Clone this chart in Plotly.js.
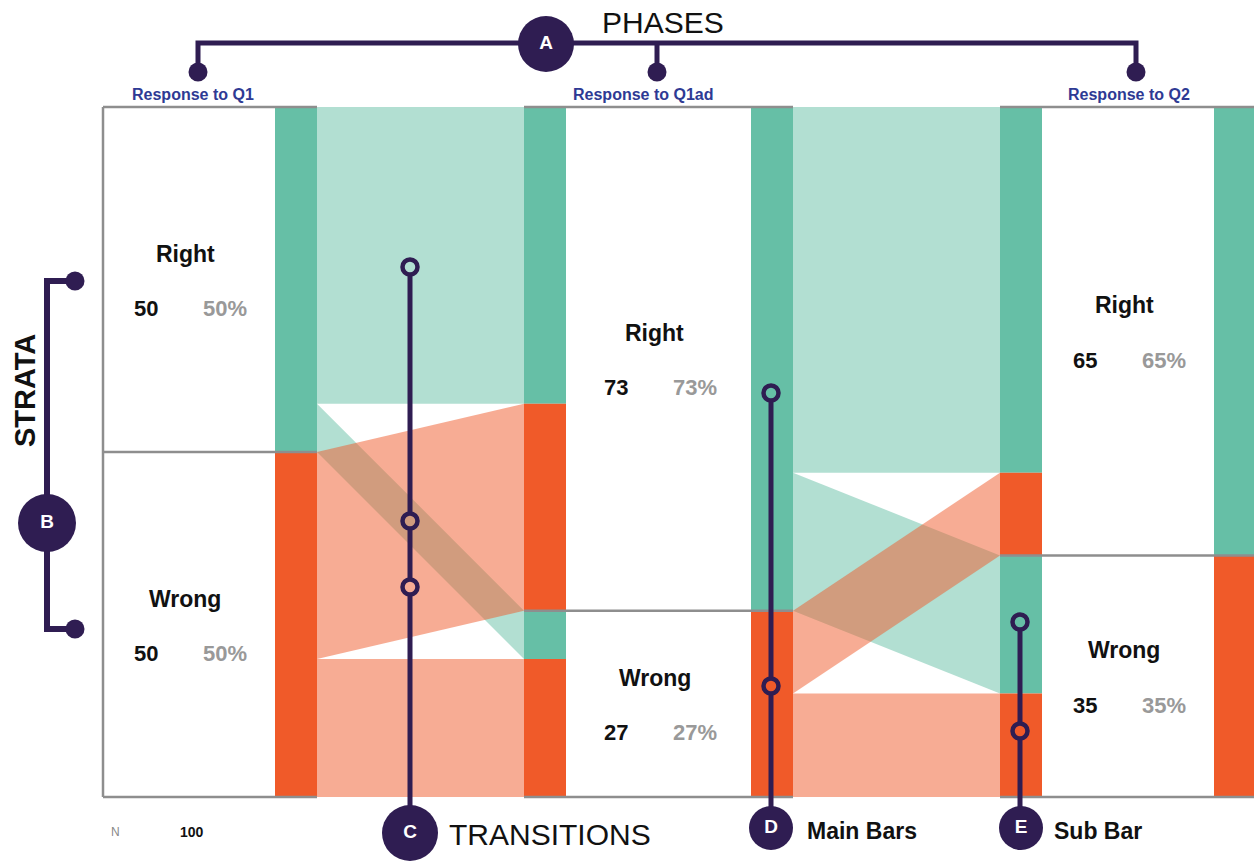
<!DOCTYPE html>
<html>
<head>
<meta charset="utf-8">
<script src="https://cdn.plot.ly/plotly-3.0.1.min.js"></script>
<style>
body{margin:0;background:#fff}
#plot{width:1254px;height:861px}
</style>
</head>
<body>
<div id="plot"></div>
<script>

const phases = ["Response to Q1","Response to Q1ad","Response to Q2"]
const strata = ["Right","Wrong"]
const N = 100
const q1Counts = [50,50]
const q1adCounts = [73,27]
const q2Counts = [65,35]
// rows = from stratum, cols = to stratum
const q1ToQ1ad = [[43,7],[30,20]]
const q1adToQ2 = [[53,20],[12,15]]

const GREEN = "#66bfa6"
const ORANGE = "#f05a29"
const BAR = [GREEN,ORANGE]
const FLOW = ["rgba(102,191,166,0.5)","rgba(240,90,41,0.5)"]
const PURPLE = "#2f1d52"
const GREY = "#8e8e8e"
const FONT = "Liberation Sans, Arial, sans-serif"

const W = 1254, H = 861, TOP = 107, BOTTOM = 797
const scale = (BOTTOM-TOP)/N

// column geometry (pixel x)
const cols = [
{block:[103,275], main:[275,317], sub:null, counts:q1Counts, head:198, title:193},
{block:[566,751], main:[751,793], sub:[524,566], counts:q1adCounts, head:657, title:643},
{block:[1042,1214], main:[1214,1254], sub:[1000,1042], counts:q2Counts, head:1136, title:1129}
]
const transitions = [q1ToQ1ad, q1adToQ2]

const shapes = []
const traces = []
const annotations = []

function rect(xs,y0,y1,color){
shapes.push({type:"rect",xref:"x",yref:"y",x0:xs[0],x1:xs[1],y0:y0,y1:y1,
fillcolor:color,line:{width:0},layer:"below"})
}

function hline(x0,x1,y){
shapes.push({type:"line",xref:"x",yref:"y",x0:x0,x1:x1,y0:y,y1:y,
line:{color:GREY,width:2.5},layer:"below"})
}

// main bars + strata labels
cols.forEach((c,k)=>{
let cum = 0
c.counts.forEach((v,i)=>{
rect(c.main,cum,cum+v,BAR[i])
const mid = cum+v/2
const cx = (c.block[0]+c.block[1])/2
annotations.push({x:cx-4,y:mid,xref:"x",yref:"y",text:"<b>"+strata[i]+"</b>",showarrow:false,
yshift:26,font:{family:FONT,size:23,color:"#111"}})
annotations.push({x:cx-43,y:mid,xref:"x",yref:"y",text:"<b>"+v+"</b>",showarrow:false,
yshift:-29,font:{family:FONT,size:22,color:"#111"}})
annotations.push({x:cx+36,y:mid,xref:"x",yref:"y",text:"<b>"+Math.round(v/N*100)+"%</b>",showarrow:false,
yshift:-29,font:{family:FONT,size:22,color:"#999"}})
cum += v
})
})

// sub bars, coloured by origin stratum
cols.forEach((c,k)=>{
if(!c.sub) return
const t = transitions[k-1]
let cum = 0
strata.forEach((s,j)=>{
strata.forEach((s2,i)=>{
rect(c.sub,cum,cum+t[i][j],BAR[i])
cum += t[i][j]
})
})
})

// grey frame lines
shapes.push({type:"line",xref:"x",yref:"y",x0:103,x1:103,y0:0,y1:N,line:{color:GREY,width:2.5},layer:"below"})
cols.forEach(c=>{
const x0 = c.sub ? c.sub[0] : c.block[0]
const x1 = c.main[1]
hline(x0,x1,0)
hline(x0,x1,N)
hline(x0,x1,c.counts[0])
})

// transitions
transitions.forEach((t,k)=>{
const xa = cols[k].main[1]
const xb = cols[k+1].sub[0]
const src = [[0,0],[0,0]], tgt = [[0,0],[0,0]]
let cum = 0
for(let i=0;i<2;i++) for(let j=0;j<2;j++){ src[i][j] = cum; cum += t[i][j] }
cum = 0
for(let j=0;j<2;j++) for(let i=0;i<2;i++){ tgt[i][j] = cum; cum += t[i][j] }
for(let i=0;i<2;i++) for(let j=0;j<2;j++){
const v = t[i][j]
traces.push({
x:[xa,xb,xb,xa,xa],
y:[src[i][j],tgt[i][j],tgt[i][j]+v,src[i][j]+v,src[i][j]],
type:"scatter",mode:"lines",fill:"toself",fillcolor:FLOW[i],
line:{width:0},hoverinfo:"skip",xaxis:"x",yaxis:"y"
})
}
})

// phase headings
cols.forEach((c,k)=>{
annotations.push({x:c.title,y:94,xref:"x",yref:"y2",text:"<b>"+phases[k]+"</b>",showarrow:false,
font:{family:FONT,size:16,color:"#2e3a94"}})
})

// ---- callout decorations (pixel space on y2) ----
function path(xs,ys,w){
traces.push({x:xs,y:ys,type:"scatter",mode:"lines",line:{color:PURPLE,width:w||5},
hoverinfo:"skip",xaxis:"x",yaxis:"y2",connectgaps:false})
}
// phases bracket
path([198,198,1136,1136,null,657,657],[72,43,43,72,null,43,72])
// strata bracket
path([75,47,47,75],[281,281,629,629],6)
// transitions / main bar / sub bar pointers
path([410,410,null,410,410,null,410,410],[275,513,null,529,579,null,595,832])
path([771,771,null,771,771],[401,678,null,694,830])
path([1020,1020,null,1020,1020],[630,723,null,739,830])

traces.push({x:[198,657,1136,75,75],y:[72,72,72,281,629],type:"scatter",mode:"markers",
marker:{color:PURPLE,size:19,opacity:1},hoverinfo:"skip",xaxis:"x",yaxis:"y2"})
traces.push({x:[410,410,410,771,771,1020,1020],y:[267,521,587,393,686,622,731],type:"scatter",mode:"markers",
marker:{symbol:"circle-open",color:PURPLE,size:15,opacity:1,line:{width:4.5,color:PURPLE}},hoverinfo:"skip",xaxis:"x",yaxis:"y2"})

const badges = [["A",546,44,56],["B",47,523,58],["C",410,833,56],["D",771,828,44],["E",1021,828,44]]
traces.push({x:badges.map(b=>b[1]),y:badges.map(b=>b[2]),text:badges.map(b=>"<b>"+b[0]+"</b>"),
type:"scatter",mode:"markers+text",textposition:"middle center",
textfont:{family:FONT,size:19,color:"#fff"},
marker:{color:PURPLE,opacity:1,size:badges.map(b=>b[3]),line:{width:0}},hoverinfo:"skip",xaxis:"x",yaxis:"y2"})

annotations.push({x:600,y:22,xref:"x",yref:"y2",xanchor:"left",text:"PHASES",showarrow:false,
font:{family:FONT,size:30,color:"#111"}})
annotations.push({x:447,y:834,xref:"x",yref:"y2",xanchor:"left",text:"TRANSITIONS",showarrow:false,
font:{family:FONT,size:30,color:"#111"}})
annotations.push({x:805,y:831,xref:"x",yref:"y2",xanchor:"left",text:"<b>Main Bars</b>",showarrow:false,
font:{family:FONT,size:23,color:"#111"}})
annotations.push({x:1052,y:831,xref:"x",yref:"y2",xanchor:"left",text:"<b>Sub Bar</b>",showarrow:false,
font:{family:FONT,size:23,color:"#111"}})
annotations.push({x:25,y:391,xref:"x",yref:"y2",textangle:-90,text:"<b>STRATA</b>",showarrow:false,
font:{family:FONT,size:29,color:"#111"}})
annotations.push({x:115,y:832,xref:"x",yref:"y2",text:"N",showarrow:false,
font:{family:FONT,size:12,color:"#888"}})
annotations.push({x:192,y:832,xref:"x",yref:"y2",text:"<b>"+N+"</b>",showarrow:false,
font:{family:FONT,size:14,color:"#111"}})

Plotly.newPlot(
"plot",
traces,
{
width:W,
height:H,
margin:{l:0,r:0,t:0,b:0},
paper_bgcolor:"#fff",
plot_bgcolor:"#fff",
showlegend:false,
xaxis:{range:[0,W],visible:false,fixedrange:true},
yaxis:{range:[(H-TOP)/scale,-TOP/scale],visible:false,fixedrange:true},
yaxis2:{range:[H,0],overlaying:"y",anchor:"x",visible:false,fixedrange:true},
shapes:shapes,
annotations:annotations
},
{displayModeBar:false,staticPlot:true}
)

</script>
</body>
</html>
